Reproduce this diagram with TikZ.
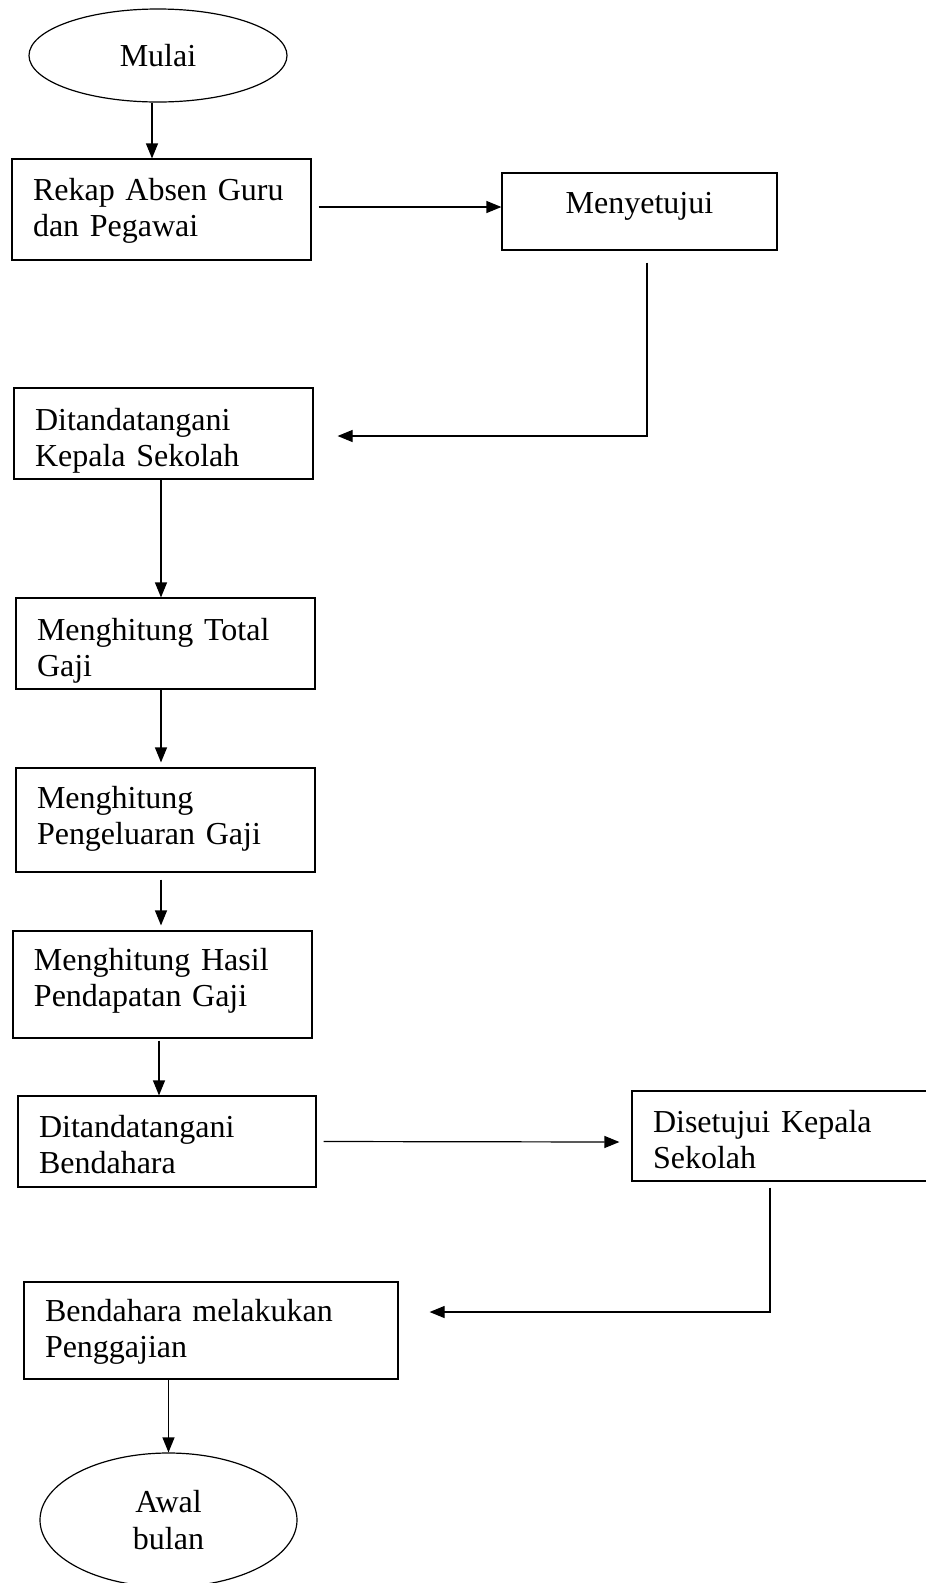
\documentclass[tikz,border=0pt]{standalone}
\usepackage{fontspec}
\setmainfont{Liberation Serif}
\usetikzlibrary{shapes.geometric,arrows.meta}

\begin{document}
\begin{tikzpicture}[
	x=1pt,y=-1pt,
	font=\fontsize{32}{36.5}\selectfont,
	box/.style={rectangle,draw,line width=1.2pt,inner xsep=21pt,inner ysep=0pt,
		align=left,text height=22pt},
	term/.style={ellipse,draw,line width=1.2pt,inner sep=0pt,align=center},
	arr/.style={line width=1.2pt,-{Triangle[length=15pt,width=12pt]}}
]

	\useasboundingbox (0,0) rectangle (926,1583);
	\clip (0,0) rectangle (926,1583);

	\node[term,minimum width=258pt,minimum height=93pt] at (158,55.5) (mulai) {Mulai};
	\node[box,minimum width=299pt,minimum height=101pt,text width=257pt,text depth=41pt] at (161.5,209.5) (rekap) {Rekap Absen Guru\\dan Pegawai};
	\node[box,align=center,minimum width=275pt,minimum height=77pt,text width=233pt,text depth=19pt] at (639.5,211.5) (setuju) {Menyetujui};
	\node[box,minimum width=299pt,minimum height=91pt,text width=257pt,text depth=29pt] at (163.5,433.5) (kepsek) {Ditandatangani\\Kepala Sekolah};
	\node[box,minimum width=299pt,minimum height=91pt,text width=257pt,text depth=29pt] at (165.5,643.5) (total) {Menghitung Total\\Gaji};
	\node[box,minimum width=299pt,minimum height=104pt,text width=257pt,text depth=46pt] at (165.5,820) (keluar) {Menghitung\\Pengeluaran Gaji};
	\node[box,minimum width=299pt,minimum height=107pt,text width=257pt,text depth=51pt] at (162.5,984.5) (hasil) {Menghitung Hasil\\Pendapatan Gaji};
	\node[box,minimum width=298pt,minimum height=91pt,text width=256pt,text depth=31pt] at (167,1141.5) (bendahara) {Ditandatangani\\Bendahara};
	\node[box,minimum width=298pt,minimum height=90pt,text width=256pt,text depth=30pt] at (781,1136) (disetujui) {Disetujui Kepala\\Sekolah};
	\node[box,minimum width=374pt,minimum height=97pt,text width=332pt,text depth=41pt] at (211,1330.5) (gaji) {Bendahara melakukan\\Penggajian};
	\node[term,minimum width=257pt,minimum height=134pt] at (168.5,1520) (awal) {Awal\\bulan};

	\draw[arr] ([xshift=-6pt]mulai.south) -- ([xshift=-9.5pt]rekap.north);
	\draw[arr] ([xshift=7pt,yshift=2.5pt]rekap.east) -- ([yshift=4.5pt]setuju.west);
	\draw[arr] ([xshift=7.5pt,yshift=-12pt]setuju.south) |- ([xshift=24pt,yshift=-2.5pt]kepsek.east);
	\draw[arr] ([xshift=-2.5pt]kepsek.south) -- ([xshift=-4.5pt]total.north);
	\draw[arr] ([xshift=-4.5pt]total.south) -- ([xshift=-4.5pt,yshift=5pt]keluar.north);
	\draw[arr] ([xshift=-4.5pt,yshift=-7pt]keluar.south) -- ([xshift=-1.5pt,yshift=5pt]hasil.north);
	\draw[arr] ([xshift=-3.5pt,yshift=-2pt]hasil.south) -- ([xshift=-8pt]bendahara.north);
	\draw[arr] ([xshift=7pt]bendahara.east) -- ([xshift=-12pt,yshift=-6pt]disetujui.west);
	\draw[arr] ([xshift=-11pt,yshift=-6pt]disetujui.south) |- ([xshift=31pt,yshift=18.5pt]gaji.east);
	\draw[arr] (awal.north |- gaji.south) -- (awal.north);

\end{tikzpicture}
\end{document}
